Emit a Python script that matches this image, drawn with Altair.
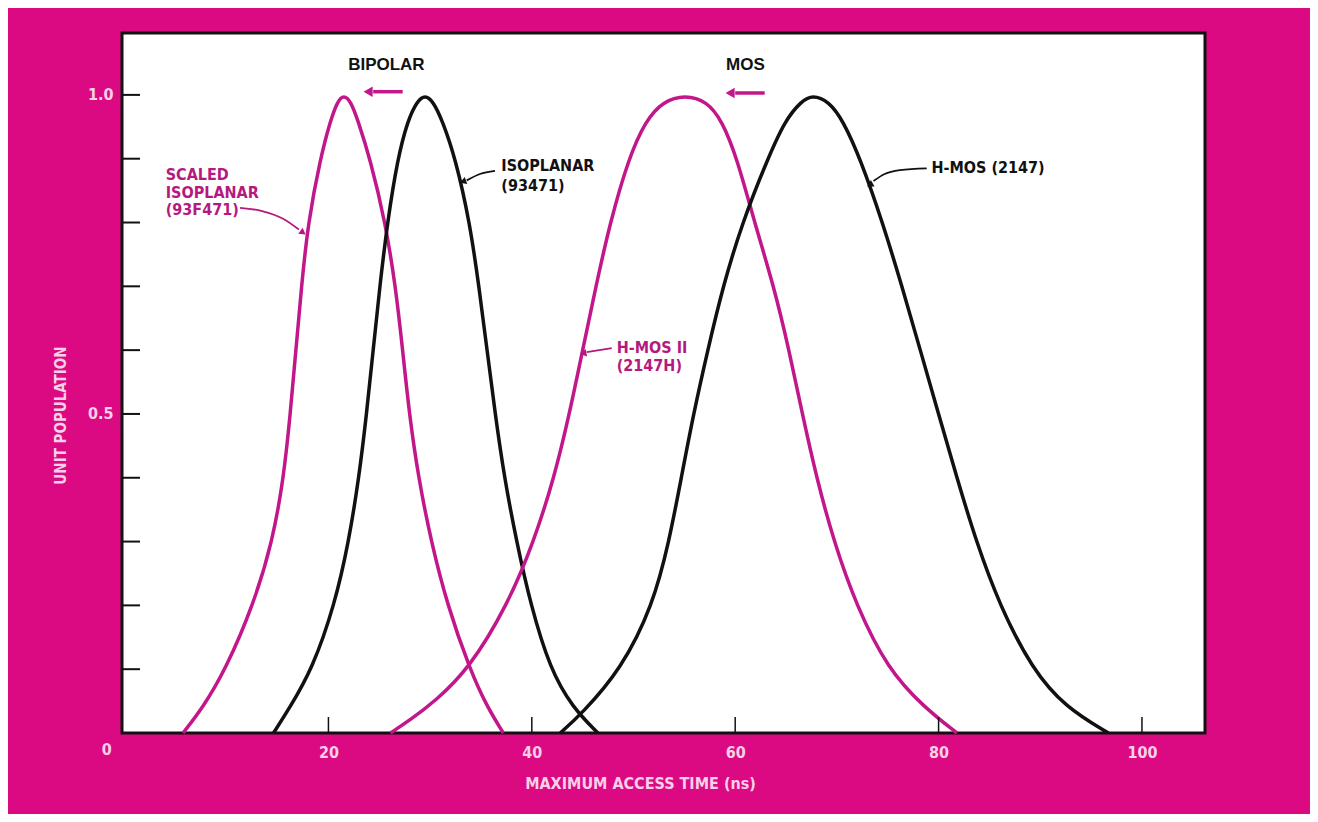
import altair as alt
import pandas as pd

# ---------------- data ----------------
# each curve: access time (ns) and unit population
scaled_iso_x = [5.7, 7.7, 9.9, 12.6, 14.5, 15.6, 16.25, 16.8, 17.35, 18.0, 19.2, 20.2, 20.9, 21.5,
                22.2, 22.9, 24.1, 25.6, 26.6, 27.3, 27.95, 28.85, 30.1, 31.7, 33.9, 35.6, 37.2]
scaled_iso_y = [0.0, 0.041, 0.1, 0.2, 0.3, 0.4, 0.5, 0.6, 0.7, 0.8, 0.9, 0.96, 0.99, 1.0,
                0.99, 0.96, 0.9, 0.8, 0.7, 0.6, 0.5, 0.4, 0.3, 0.2, 0.1, 0.041, 0.0]

iso_x = [14.6, 16.2, 18.4, 20.6, 22.0, 23.0, 23.75, 24.4, 25.05, 25.8, 26.8, 27.8, 28.7, 29.5,
         30.3, 31.2, 32.5, 33.9, 34.8, 35.6, 36.4, 37.3, 38.5, 39.9, 41.8, 44.0, 46.5]
iso_y = [0.0, 0.04, 0.1, 0.2, 0.3, 0.4, 0.5, 0.6, 0.7, 0.8, 0.9, 0.96, 0.99, 1.0,
         0.99, 0.96, 0.9, 0.8, 0.7, 0.6, 0.5, 0.4, 0.3, 0.2, 0.1, 0.04, 0.0]

hmos2_x = [26.1, 28.0, 30.5, 33.8, 37.6, 40.2, 42.2, 43.7, 45.0, 46.3, 47.7, 49.5, 51.2, 52.9, 55.1,
           57.2, 58.7, 60.2, 61.9, 63.8, 65.3, 66.6, 68.0, 69.7, 71.9, 75.0, 78.6, 81.8]
hmos2_y = [0.0, 0.02, 0.05, 0.1, 0.2, 0.3, 0.4, 0.5, 0.6, 0.7, 0.8, 0.9, 0.96, 0.99, 1.0,
           0.99, 0.96, 0.9, 0.8, 0.7, 0.6, 0.5, 0.4, 0.3, 0.2, 0.1, 0.04, 0.0]

hmos_x = [42.8, 44.9, 48.8, 51.9, 53.5, 54.7, 55.9, 57.3, 58.8, 60.7, 63.2, 64.9, 66.5, 67.6,
          69.2, 70.6, 72.3, 74.5, 76.4, 78.2, 80.0, 81.8, 83.7, 86.0, 89.2, 92.5, 96.7]
hmos_y = [0.0, 0.03, 0.1, 0.2, 0.3, 0.4, 0.5, 0.6, 0.7, 0.8, 0.9, 0.96, 0.99, 1.0,
          0.99, 0.96, 0.9, 0.8, 0.7, 0.6, 0.5, 0.4, 0.3, 0.2, 0.1, 0.04, 0.0]

series_names = ["SCALED ISOPLANAR (93F471)", "ISOPLANAR (93471)", "H-MOS II (2147H)", "H-MOS (2147)"]
series_colors = ["#c2168b", "#111111", "#c2168b", "#111111"]

x_tick_values = [20, 40, 60, 80, 100]
y_tick_values = [0.1, 0.2, 0.3, 0.4, 0.5, 0.6, 0.7, 0.8, 0.9, 1.0]
y_label_values = [0.5, 1.0]

header_text = ["BIPOLAR", "MOS"]
header_x = [25.7, 61.0]
header_y = [1.047, 1.047]

label_text = ["SCALED", "ISOPLANAR", "(93F471)", "ISOPLANAR", "(93471)", "H-MOS II", "(2147H)", "H-MOS (2147)"]
label_x = [4.0, 4.0, 4.0, 37.0, 37.0, 48.35, 48.35, 79.3]
label_y = [0.875, 0.847, 0.819, 0.888, 0.858, 0.603, 0.575, 0.886]
label_color = ["#b5197f", "#b5197f", "#b5197f", "#111111", "#111111", "#b5197f", "#b5197f", "#111111"]

# annotation arrows: shaft points and heads (data coordinates)
arrow_id = ["bip", "bip", "mos", "mos", "sc", "sc", "sc", "sc", "iso", "iso", "iso", "h2", "h2",
            "h1", "h1", "h1", "h1"]
arrow_x = [27.3, 24.4, 62.9, 60.0, 11.31, 13.47, 15.54, 17.1, 36.38, 34.9, 33.6, 47.86, 45.4,
           78.83, 76.2, 74.7, 73.6]
arrow_y = [1.005, 1.005, 1.003, 1.003, 0.823, 0.818, 0.806, 0.789, 0.881, 0.876, 0.866, 0.603, 0.597,
           0.885, 0.882, 0.876, 0.865]
arrow_col = ["#c2168b"] * 4 + ["#b5197f"] * 4 + ["#111111"] * 3 + ["#b5197f"] * 2 + ["#111111"] * 4
arrow_w = [3.5] * 4 + [1.8] * 13

head_x = [23.9, 59.5, 17.5, 33.23, 45.06, 73.25]
head_y = [1.005, 1.003, 0.784, 0.864, 0.595, 0.859]
head_shape = ["triangle-left", "triangle-left", "triangle-right", "triangle-left", "triangle-left", "triangle-left"]
head_angle = [0, 0, 36, 340, 350, 330]
head_col = ["#c2168b", "#c2168b", "#b5197f", "#111111", "#b5197f", "#111111"]
head_size = [110, 110, 55, 55, 55, 55]

# ---------------- build tables ----------------
rows = []
for name, xs_, ys_ in zip(series_names, [scaled_iso_x, iso_x, hmos2_x, hmos_x],
                          [scaled_iso_y, iso_y, hmos2_y, hmos_y]):
    for i, (a, b) in enumerate(zip(xs_, ys_)):
        rows.append({"series": name, "t": a, "pop": b, "i": i})
curves = pd.DataFrame(rows)

BG = "#dc0a82"
PINK_TXT = "#f8d0e8"
FONT_N = "Liberation Sans Narrow, DejaVu Sans Condensed, Arial Narrow, sans-serif"
FONT = "Liberation Sans, Arial, Helvetica, sans-serif"

xs = alt.Scale(domain=[-0.3, 106.2], nice=False, zero=False)
ys = alt.Scale(domain=[0, 1.097], nice=False, zero=False)

W, H = 1083, 700

lines = alt.Chart(curves).mark_line(interpolate="basis", strokeWidth=3.5).encode(
    x=alt.X("t:Q", scale=xs,
            axis=alt.Axis(values=x_tick_values, ticks=False, domain=False, grid=False,
                          labelColor=PINK_TXT, labelFont=FONT_N, labelFontSize=16, labelFontWeight="bold",
                          labelPadding=11,
                          title="MAXIMUM ACCESS TIME (ns)", titleColor=PINK_TXT, titleFont=FONT_N,
                          titleFontSize=16, titleFontWeight="bold", titleX=518, titleY=50,
                          titleAnchor="middle", titleAlign="center", titleBaseline="middle")),
    y=alt.Y("pop:Q", scale=ys,
            axis=alt.Axis(values=y_label_values, format=".1f", ticks=False, domain=False, grid=False,
                          labelColor=PINK_TXT, labelFont=FONT_N, labelFontSize=16, labelFontWeight="bold",
                          labelPadding=9,
                          title="UNIT POPULATION", titleColor=PINK_TXT, titleFont=FONT_N,
                          titleFontSize=15, titleFontWeight="bold", titleX=-62, titleY=382,
                          titleAngle=270, titleAlign="center", titleBaseline="middle")),
    color=alt.Color("series:N", scale=alt.Scale(domain=series_names, range=series_colors), legend=None),
    order="i:Q",
)

ytick_df = pd.DataFrame({"v": y_tick_values})
yticks = alt.Chart(ytick_df).mark_rule(color="#111111", strokeWidth=2).encode(
    y=alt.Y("v:Q", scale=ys), x=alt.value(0), x2=alt.value(18))

xtick_df = pd.DataFrame({"v": x_tick_values})
xticks = alt.Chart(xtick_df).mark_rule(color="#111111", strokeWidth=1.5).encode(
    x=alt.X("v:Q", scale=xs), y=alt.value(H), y2=alt.value(H - 16))

hdr_df = pd.DataFrame({"t": header_x, "pop": header_y, "txt": header_text})
headers = alt.Chart(hdr_df).mark_text(font=FONT, fontSize=17, fontWeight="bold", color="#111111",
                                      align="center", baseline="middle").encode(
    x=alt.X("t:Q", scale=xs), y=alt.Y("pop:Q", scale=ys), text="txt:N")

lab_df = pd.DataFrame({"t": label_x, "pop": label_y, "txt": label_text, "col": label_color})
labels = alt.Chart(lab_df).mark_text(font=FONT_N, fontSize=16, fontWeight="bold",
                                     align="left", baseline="middle").encode(
    x=alt.X("t:Q", scale=xs), y=alt.Y("pop:Q", scale=ys), text="txt:N",
    color=alt.Color("col:N", scale=None))

arr_df = pd.DataFrame({"id": arrow_id, "t": arrow_x, "pop": arrow_y, "col": arrow_col, "w": arrow_w,
                       "i": list(range(len(arrow_id)))})
shafts = alt.Chart(arr_df).mark_line(interpolate="monotone").encode(
    x=alt.X("t:Q", scale=xs), y=alt.Y("pop:Q", scale=ys),
    detail="id:N", color=alt.Color("col:N", scale=None),
    strokeWidth=alt.StrokeWidth("w:Q", scale=None), order="i:Q")

head_df = pd.DataFrame({"t": head_x, "pop": head_y, "shape": head_shape, "ang": head_angle,
                        "col": head_col, "sz": head_size})
heads = alt.Chart(head_df).mark_point(filled=True, opacity=1, strokeWidth=0).encode(
    x=alt.X("t:Q", scale=xs), y=alt.Y("pop:Q", scale=ys),
    shape=alt.Shape("shape:N", scale=None), angle=alt.Angle("ang:Q", scale=None),
    color=alt.Color("col:N", scale=None), size=alt.Size("sz:Q", scale=None))

zero_df = pd.DataFrame({"t": [-1.8], "pop": [-0.027], "txt": ["0"]})
zero = alt.Chart(zero_df).mark_text(font=FONT_N, fontSize=16, fontWeight="bold", color=PINK_TXT,
                                    align="center", baseline="middle").encode(
    x=alt.X("t:Q", scale=xs), y=alt.Y("pop:Q", scale=ys), text="txt:N")

chart = alt.layer(lines, yticks, xticks, headers, labels, shafts, heads, zero).properties(
    width=W, height=H,
    background=BG,
    padding={"left": 114, "top": 25, "right": 105, "bottom": 81},
    autosize=alt.AutoSizeParams(type="none"),
).configure_view(stroke="#111111", strokeWidth=3, fill="white")

chart.save("out.html", embed_options={"renderer": "svg", "actions": False})
